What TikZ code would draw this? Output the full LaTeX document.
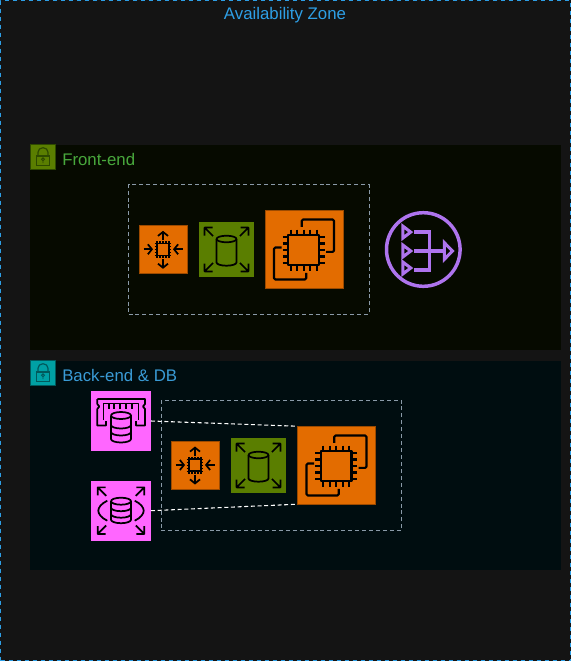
\documentclass[tikz,border=0pt]{standalone}
\usepackage{fontspec}
\setmainfont{Liberation Sans}
\usetikzlibrary{arrows.meta}

\definecolor{zonebg}{HTML}{141414}
\definecolor{zoneblue}{HTML}{2E9FE6}
\definecolor{frontbg}{HTML}{060A00}
\definecolor{backbg}{HTML}{000D10}
\definecolor{frontgreen}{HTML}{48A83C}
\definecolor{backblue}{HTML}{3A9BD6}
\definecolor{ecorange}{HTML}{E36C00}
\definecolor{ecline}{HTML}{9C4A00}
\definecolor{asgreen}{HTML}{5A7E00}
\definecolor{dbpink}{HTML}{FF66FF}
\definecolor{natpurple}{HTML}{AE74EE}
\definecolor{tealtile}{HTML}{00A0A4}
\definecolor{groupline}{HTML}{8A9AA8}
\definecolor{lockgreen}{HTML}{2E4A00}
\definecolor{lockteal}{HTML}{00595C}

\tikzset{
  panel/.style={inner sep=0pt,outer sep=0pt,anchor=north west},
  tile/.style={inner sep=0pt,outer sep=0pt,minimum size=#1*0.75pt},
  group box/.style={panel,draw=groupline,dashed,dash pattern=on 3pt off 2.2pt,line width=0.6pt},
  label text/.style={inner sep=0pt,anchor=west,font=\fontsize{12.6}{14}\selectfont},
  icon line/.style={draw=black,line width=1.6pt,line join=round,fill=none},
  thin line/.style={draw=black,line width=1.3pt,line join=round,fill=none},
  pin line/.style={draw=black,line width=1pt},
  nat line/.style={draw=natpurple,line width=2.3pt,line join=miter},
  link/.style={draw=white,line width=0.8pt,dash pattern=on 3pt off 2pt},
  barb/.style={-{Straight Barb[length=3pt,width=7.5pt,line width=1.3pt]}},
  ec2icon/.pic={
    \draw[icon line] (-15.7,-14) rectangle (15,16);
    \foreach \p in {-13.3,-6.7,-0.3,6.3,12.7} {
      \draw[icon line] (\p,-19.7) -- (\p,-14);
      \draw[icon line] (\p,16) -- (\p,21.7);
      \draw[icon line] (-21.4,\p+1) -- (-15.7,\p+1);
      \draw[icon line] (15,\p+1) -- (20.7,\p+1);
    }
    \draw[icon line,rounded corners=1pt] (-2.3,-22.3) -- (-2.3,-29.7) -- (30,-29.7) -- (30,2.7) -- (22,2.7);
    \draw[icon line,rounded corners=1pt] (-22.3,-1.7) -- (-30,-1.7) -- (-30,30.3) -- (2.3,30.3) -- (2.3,23.7);
  },
  asgicon/.pic={
    \draw[thin line] (-6,-5.8) rectangle (6,6.2);
    \foreach \p in {-6,-3,0,3,6} {
      \draw[pin line] (\p,-8.2) -- (\p,-5.8);
      \draw[pin line] (\p,6.2) -- (\p,8.6);
      \draw[pin line] (-8.4,\p+0.2) -- (-6,\p+0.2);
      \draw[pin line] (6,\p+0.2) -- (8.4,\p+0.2);
    }
    \draw[thin line,barb] (0,-9) -- (0,-18.5);
    \draw[thin line,barb] (0,9.5) -- (0,19.5);
    \draw[thin line,barb] (-19.5,0) -- (-10,0);
    \draw[thin line,barb] (19.5,0) -- (10,0);
  },
  scaleicon/.pic={
    \draw[thin line] (-10,-10.5) -- (-10,13) arc[start angle=180,end angle=360,x radius=10,y radius=-3.2] -- (10,-10.5);
    \draw[thin line] (0,-10.5) ellipse[x radius=10,y radius=3.3];
    \foreach \a in {45,135,225,315}
      \draw[thin line,rotate=\a] (19,0) -- (31,0) (25.4,-5.6) -- (31,0) -- (25.4,5.6);
  },
  ramdbicon/.pic={
    \draw[thin line] (-23.7,-22) -- (24,-22) -- (24,-17) -- (22,-14.5) -- (24,-12) -- (24,4.6) -- (15,4.6) -- (15,0)
      (-15,0) -- (-15,4.6) -- (-23.7,4.6) -- (-23.7,-12) -- (-21.7,-14.5) -- (-23.7,-17) -- (-23.7,-22);
    \draw[thin line] (-17.5,-1) -- (-17.5,-17.5) -- (-12,-17.5) -- (-12,-12) (-12,-17.5) -- (-7,-17.5) -- (-7,-12)
      (-7,-17.5) -- (-1,-17.5) -- (-1,-12) (-1,-17.5) -- (5,-17.5) -- (5,-12)
      (5,-17.5) -- (11,-17.5) -- (11,-12) (11,-17.5) -- (17.5,-17.5) -- (17.5,-1);
    \fill[dbpink] (-11,-6) rectangle (11,19);
    \draw[thin line] (-10,-5.5) -- (-10,18) arc[start angle=180,end angle=360,x radius=10,y radius=-3.5] -- (10,-5.5);
    \draw[thin line] (0,-5.5) ellipse[x radius=10,y radius=3.5];
    \draw[thin line] (-10,4) arc[start angle=180,end angle=360,x radius=10,y radius=-3.5];
    \draw[thin line] (-10,11) arc[start angle=180,end angle=360,x radius=10,y radius=-3.5];
  },
  multidbicon/.pic={
    \draw[thin line] (-10,-9.5) -- (-10,9) arc[start angle=180,end angle=360,x radius=10,y radius=-3.5] -- (10,-9.5);
    \draw[thin line] (0,-9.5) ellipse[x radius=10,y radius=3.5];
    \draw[thin line] (-10,-3) arc[start angle=180,end angle=360,x radius=10,y radius=-3.5];
    \draw[thin line] (-10,3.5) arc[start angle=180,end angle=360,x radius=10,y radius=-3.5];
    \draw[thin line] (-13.7,-10) .. controls (-20,-7) and (-22.7,-3) .. (-22.7,0) .. controls (-22.7,3) and (-20,7) .. (-13.7,10);
    \draw[thin line] (13.7,-10) .. controls (20,-7) and (22.7,-3) .. (22.7,0) .. controls (22.7,3) and (20,7) .. (13.7,10);
    \foreach \a in {45,135,225,315}
      \draw[thin line,rotate=\a] (21,0) -- (33,0) (27.4,-5.6) -- (33,0) -- (27.4,5.6);
  },
  naticon/.pic={
    \draw[nat line,line width=2.6pt] (0,0) circle[radius=36.8];
    \foreach \p in {-17.4,1.5,18.5}
      \draw[nat line] (-20.5,\p-6) -- (-20.5,\p+6) -- (-12.6,\p) -- cycle;
    \draw[nat line] (-9,-17.5) -- (6,-17.5) -- (6,20.5) -- (-9,20.5) (-9,1.5) -- (21,1.5);
    \draw[nat line] (21,-6.8) -- (21,9.8) -- (29.2,1.5) -- cycle;
  },
  lockicon/.pic={
    \draw[draw=#1,line width=0.9pt] (-6.8,-1) rectangle (6.8,8.7);
    \draw[draw=#1,line width=0.9pt] (-5,-1) -- (-5,-4.8) arc[start angle=180,end angle=360,x radius=5,y radius=4.5] -- (5,-1);
    \draw[draw=#1,line width=0.7pt] (0,2.3) circle[radius=1.4] (0,3.7) -- (0,6.1);
  }
}

\begin{document}
\begin{tikzpicture}[x=0.75pt,y=-0.75pt]
  \useasboundingbox (0,0) rectangle (571,661);
  \fill[zonebg] (0,0) rectangle (571,661);

  % zone and subnets
  \node[panel,draw=zoneblue,dashed,dash pattern=on 3pt off 3pt,line width=0.75pt,minimum width=570*0.75pt,minimum height=660*0.75pt] (zone) at (0.5,0.5) {};
  \node[inner sep=0pt,text=zoneblue,font=\fontsize{12.6}{14}\selectfont] (zonetitle) at (285,15.5) {Availability Zone};
  \node[panel,fill=frontbg,minimum width=531*0.75pt,minimum height=205*0.75pt] (front) at (30,145) {};
  \node[panel,fill=backbg,minimum width=531*0.75pt,minimum height=209*0.75pt] (back) at (30,361) {};

  \node[tile=25,fill=asgreen,draw=lockgreen,line width=0.5pt] (frontlock) at (43,157) {};
  \pic at (frontlock) {lockicon=lockgreen};
  \node[tile=25,fill=tealtile,draw=lockteal,line width=0.5pt] (backlock) at (43,373) {};
  \pic at (backlock) {lockicon=lockteal};
  \node[label text,text=frontgreen] (fronttitle) at (62,159.5) {Front-end};
  \node[label text,text=backblue] (backtitle) at (62,375.5) {Back-end \& DB};

  % dashed groups
  \node[group box,minimum width=240.5*0.75pt,minimum height=130*0.75pt] (frontgroup) at (128.5,184.5) {};
  \node[group box,minimum width=240.5*0.75pt,minimum height=130*0.75pt] (backgroup) at (161,400.5) {};

  % front-end icons
  \node[tile=48,fill=ecorange,draw=ecline,line width=0.4pt] (frontasg) at (163,249.3) {};
  \pic at (frontasg) {asgicon};
  \node[tile=55,fill=asgreen] (frontscale) at (226.5,249.5) {};
  \pic at (frontscale) {scaleicon};
  \node[tile=78,fill=ecorange,draw=ecline,line width=0.4pt] (frontec2) at (304,249.2) {};
  \pic at (frontec2) {ec2icon};
  \node[tile=78] (nat) at (423.3,249.5) {};
  \pic at (nat) {naticon};

  % back-end icons
  \node[tile=48,fill=ecorange,draw=ecline,line width=0.4pt] (backasg) at (195,465) {};
  \pic at (backasg) {asgicon};
  \node[tile=55,fill=asgreen] (backscale) at (258.5,465.5) {};
  \pic at (backscale) {scaleicon};
  \node[tile=78,fill=ecorange,draw=ecline,line width=0.4pt] (backec2) at (336.5,465.2) {};
  \pic at (backec2) {ec2icon};
  \node[tile=60,fill=dbpink] (cachedb) at (121,421) {};
  \pic at (cachedb) {ramdbicon};
  \node[tile=60,fill=dbpink] (multidb) at (121,510.7) {};
  \pic at (multidb) {multidbicon};

  \path[link]
    (cachedb.east) edge (backec2.north west)
    (multidb.east) edge (backec2.south west);
\end{tikzpicture}
\end{document}
